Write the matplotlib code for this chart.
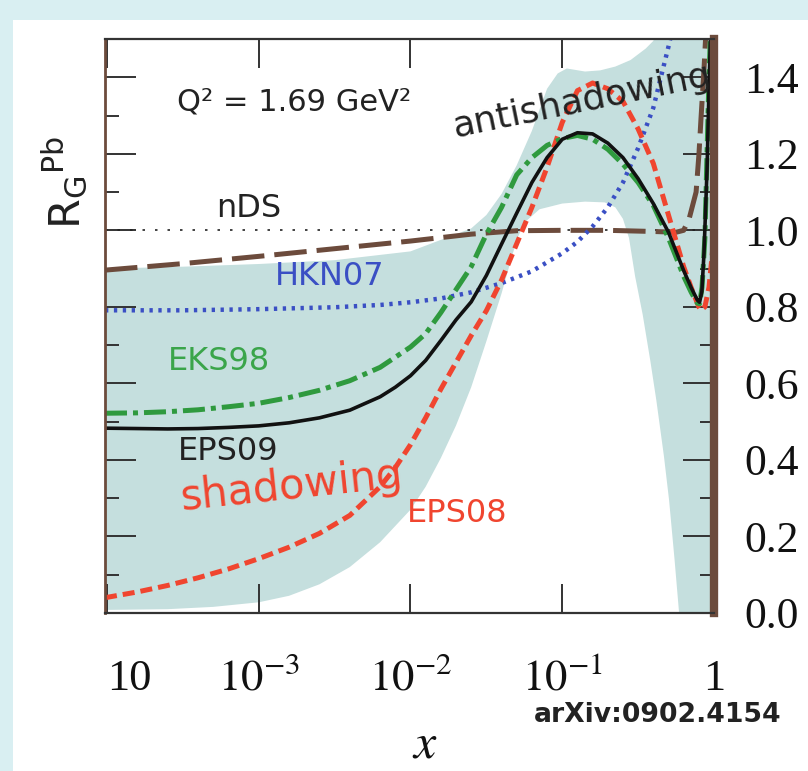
import matplotlib
matplotlib.use("Agg")
import matplotlib.pyplot as plt
from matplotlib.patches import Rectangle
from matplotlib.ticker import FixedLocator, MultipleLocator, NullLocator, NullFormatter, FormatStrFormatter

W, H = 808, 771

# ---- gluon nuclear modification R_G^Pb(x) at Q^2 = 1.69 GeV^2 (x given as log10 x) ----
nds_logx = [-4.013, -3.5, -3.0, -2.5, -2.0, -1.6, -1.3, -1.0, -0.7, -0.4, -0.25,
            -0.2, -0.164, -0.118, -0.099, -0.086, -0.066, -0.053]
nds_r = [0.896, 0.913, 0.932, 0.952, 0.972, 0.990, 0.999, 1.000, 1.000, 0.997, 0.995,
         1.000, 1.030, 1.100, 1.200, 1.290, 1.420, 1.520]

hkn_logx = [-4.013, -3.5, -3.0, -2.5, -2.2, -2.0, -1.8, -1.6, -1.4, -1.2, -1.0,
            -0.9, -0.8, -0.7, -0.6, -0.5, -0.4, -0.3, -0.26]
hkn_r = [0.791, 0.791, 0.794, 0.799, 0.805, 0.812, 0.822, 0.838, 0.862, 0.893, 0.940,
         0.970, 1.010, 1.060, 1.125, 1.215, 1.320, 1.480, 1.550]

eps09_logx = [-4.013, -3.8, -3.6, -3.4, -3.2, -3.0, -2.8, -2.6, -2.4, -2.2, -2.1,
              -2.0, -1.9, -1.8, -1.7, -1.6, -1.5, -1.4, -1.3, -1.2, -1.1,
              -1.0, -0.9, -0.8, -0.7, -0.6, -0.5, -0.4, -0.3, -0.2, -0.15,
              -0.11, -0.095, -0.08, -0.066, -0.046, -0.033, -0.02]
eps09_r = [0.483, 0.482, 0.481, 0.482, 0.485, 0.489, 0.497, 0.510, 0.530, 0.565, 0.590,
           0.620, 0.660, 0.712, 0.766, 0.813, 0.882, 0.964, 1.045, 1.125, 1.190,
           1.238, 1.255, 1.252, 1.228, 1.190, 1.135, 1.070, 0.995, 0.895, 0.850,
           0.818, 0.812, 0.840, 0.940, 1.157, 1.370, 1.550]

eks98_logx = [-4.013, -3.8, -3.6, -3.4, -3.2, -3.0, -2.8, -2.6, -2.4, -2.2, -2.0,
              -1.9, -1.8, -1.7, -1.6, -1.5, -1.4, -1.3, -1.2, -1.1, -1.0,
              -0.9, -0.8, -0.7, -0.6, -0.5, -0.4, -0.3, -0.2, -0.15, -0.11,
              -0.095, -0.079, -0.06, -0.046, -0.033, -0.02]
eks98_r = [0.522, 0.523, 0.526, 0.531, 0.539, 0.548, 0.563, 0.582, 0.607, 0.642, 0.695,
           0.730, 0.785, 0.845, 0.905, 0.990, 1.060, 1.145, 1.190, 1.222, 1.240,
           1.248, 1.238, 1.212, 1.173, 1.125, 1.065, 0.980, 0.880, 0.838, 0.810,
           0.808, 0.851, 0.980, 1.200, 1.400, 1.550]

eps08_logx = [-4.013, -3.8, -3.6, -3.4, -3.2, -3.0, -2.8, -2.6, -2.4, -2.2, -2.1,
              -2.0, -1.9, -1.8, -1.7, -1.6, -1.5, -1.4, -1.3, -1.2, -1.1,
              -1.0, -0.9, -0.8, -0.7, -0.6, -0.5, -0.4, -0.3, -0.2, -0.15,
              -0.1, -0.086, -0.06, -0.033, -0.007]
eps08_r = [0.040, 0.055, 0.072, 0.092, 0.115, 0.142, 0.172, 0.208, 0.255, 0.330, 0.380,
           0.440, 0.510, 0.585, 0.655, 0.725, 0.790, 0.870, 0.965, 1.060, 1.165,
           1.282, 1.365, 1.385, 1.370, 1.337, 1.265, 1.175, 1.040, 0.905, 0.850,
           0.800, 0.791, 0.800, 0.851, 0.956]

# EPS09 uncertainty band
band_hi_logx = [-4.013, -3.5, -3.0, -2.5, -2.0, -1.8, -1.7, -1.6, -1.5, -1.4, -1.3,
                -1.2, -1.1, -1.03, -0.97, -0.85, -0.75, -0.65, -0.55, -0.45, -0.4,
                -0.35, -0.3, 0.0]
band_hi = [0.900, 0.905, 0.912, 0.922, 0.945, 0.975, 0.990, 1.005, 1.040, 1.095, 1.170,
           1.260, 1.370, 1.410, 1.423, 1.415, 1.418, 1.428, 1.445, 1.475, 1.495,
           1.550, 1.600, 1.600]
band_lo_logx = [-4.013, -3.6, -3.3, -3.0, -2.8, -2.6, -2.4, -2.2, -2.0, -1.9, -1.8,
                -1.7, -1.6, -1.5, -1.4, -1.3, -1.25, -1.15, -1.0, -0.85, -0.72,
                -0.65, -0.6, -0.56, -0.52, -0.47, -0.42, -0.38, -0.33, -0.296, -0.26,
                -0.23, -0.18, 0.0]
band_lo = [0.008, 0.010, 0.016, 0.028, 0.045, 0.075, 0.120, 0.185, 0.270, 0.330, 0.405,
           0.490, 0.590, 0.710, 0.835, 0.975, 1.020, 1.055, 1.070, 1.075, 1.073,
           1.060, 1.030, 0.980, 0.880, 0.780, 0.660, 0.556, 0.410, 0.295, 0.140,
           0.000, -0.200, -0.200]

x_ticks = [1e-4, 1e-3, 1e-2, 1e-1, 1.0]
x_tick_labels = ["10", r"$10^{-3}$", r"$10^{-2}$", r"$10^{-1}$", "1"]

BROWN = "#6c4b3c"
BLUE = "#3a4fc4"
GREEN = "#2f9a3e"
RED = "#f0452f"
TEAL = "#c5dfde"
DARK = "#333333"

plt.rcParams["font.family"] = ["Liberation Serif", "DejaVu Serif"]
plt.rcParams["mathtext.fontset"] = "stix"


def lin(v):
    return [10.0 ** t for t in v]


def fpos(px, py):
    return px / W, 1.0 - py / H


fig = plt.figure(figsize=(W / 100, H / 100), dpi=100, facecolor="#d9eff2")
fig.patches.append(Rectangle((13 / W, 0), 1.0, 1.0 - 20 / H, transform=fig.transFigure,
                             facecolor="white", edgecolor="none", zorder=-5))

ax = fig.add_axes([105 / W, (H - 613) / H, 609 / W, 574 / H])
ax.set_facecolor("none")
ax.set_xscale("log")
ax.set_xlim(10 ** -4.013, 1.0)
ax.set_ylim(0.0, 1.5)

# band
poly_x = lin(band_hi_logx) + lin(band_lo_logx)[::-1]
poly_y = band_hi + band_lo[::-1]
ax.fill(poly_x, poly_y, color=TEAL, lw=0, zorder=1)

# reference line R = 1
ax.axhline(1.0, color="#222222", lw=1.2, ls=(0, (1.5, 6)), zorder=1.6)

ax.plot(lin(nds_logx), nds_r, color=BROWN, lw=3.6, ls=(0, (6.5, 2.0)), dash_capstyle="butt", zorder=2)
ax.plot(lin(hkn_logx), hkn_r, color=BLUE, lw=3.2, ls=(0, (0.75, 1.25)), dash_capstyle="butt", zorder=2.1)
ax.plot(lin(eps08_logx), eps08_r, color=RED, lw=3.6, ls=(0, (2.4, 1.2)), dash_capstyle="butt", zorder=2.2)
ax.plot(lin(eks98_logx), eks98_r, color=GREEN, lw=3.6, ls=(0, (4.4, 1.2, 1.0, 1.2)), dash_capstyle="butt", zorder=2.3)
ax.plot(lin(eps09_logx), eps09_r, color="#111111", lw=2.6, zorder=2.4)

# axes frame and ticks
ax.xaxis.set_major_locator(FixedLocator(x_ticks))
ax.xaxis.set_minor_locator(NullLocator())
ax.xaxis.set_major_formatter(NullFormatter())
ax.yaxis.set_major_locator(MultipleLocator(0.2))
ax.yaxis.set_minor_locator(MultipleLocator(0.1))
ax.yaxis.set_major_formatter(FormatStrFormatter("%.1f"))
ax.tick_params(axis="x", which="major", direction="in", top=True, bottom=True,
               length=21, width=1.4, color=DARK)
ax.tick_params(axis="y", which="major", direction="in", left=True, right=True,
               length=22, width=1.4, color=DARK, labelleft=False, labelright=True,
               labelsize=31.5, pad=22, labelcolor="#111111")
ax.tick_params(axis="y", which="minor", direction="in", left=True, right=True,
               length=10, width=1.4, color=DARK)
for s in ("top", "bottom"):
    ax.spines[s].set_color(DARK)
    ax.spines[s].set_linewidth(1.6)
ax.spines["left"].set_color(BROWN)
ax.spines["left"].set_linewidth(2.0)
ax.spines["right"].set_color(BROWN)
ax.spines["right"].set_linewidth(6.0)

# x tick labels on a common baseline
xform = ax.get_xaxis_transform()
base_y = -(690 - 613) / 574
for i, (xv, lab) in enumerate(zip(x_ticks, x_tick_labels)):
    ax.text(xv, base_y, lab, transform=xform, ha="left" if i == 0 else "center",
            va="baseline", fontsize=32, color="#111111", clip_on=False)

fig.text(*fpos(425, 758), r"$x$", fontsize=36, ha="center", va="baseline", color="#111111")

# y label
fig.text(*fpos(80, 183), r"$\mathrm{R}_{\mathrm{G}}{}^{\mathrm{Pb}}$", rotation=90,
         fontsize=31, ha="center", va="baseline", rotation_mode="anchor",
         math_fontfamily="dejavusans", color="#222222")

SANS = ["DejaVu Sans"]
fig.text(*fpos(177, 110), "Q\u00b2 = 1.69 GeV\u00b2", fontsize=22, family=SANS, color="#222222", va="baseline")
fig.text(*fpos(216, 217), "nDS", fontsize=23, family=SANS, color="#222222", va="baseline")
fig.text(*fpos(275, 285), "HKN07", fontsize=23, family=SANS, color=BLUE, va="baseline")
fig.text(*fpos(168, 370), "EKS98", fontsize=23, family=SANS, color="#3aa54a", va="baseline")
fig.text(*fpos(178, 460), "EPS09", fontsize=23, family=SANS, color="#222222", va="baseline")
fig.text(*fpos(182, 510), "shadowing", fontsize=30, family=SANS, color=RED, va="baseline",
         rotation=6, rotation_mode="anchor")
fig.text(*fpos(407, 522), "EPS08", fontsize=23, family=SANS, color=RED, va="baseline")
fig.text(*fpos(455, 137), "antishadowing", fontsize=26, family=SANS, color="#222222",
         va="baseline", rotation=11.5, rotation_mode="anchor")
fig.text(*fpos(534, 722), "arXiv:0902.4154", fontsize=19.2, family=SANS, weight="bold",
         color="#222222", va="baseline")

fig.savefig("out.png", dpi=100, facecolor=fig.get_facecolor())
